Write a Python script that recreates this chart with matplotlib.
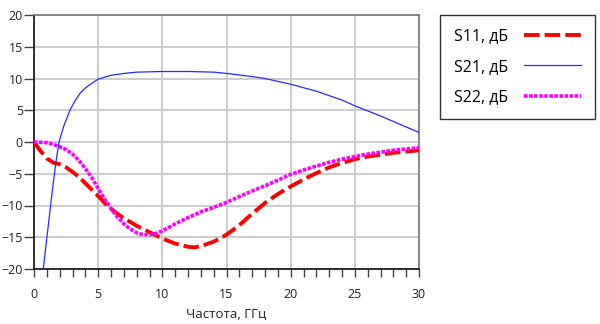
import matplotlib
matplotlib.use("Agg")
import matplotlib.pyplot as plt
from matplotlib.ticker import MultipleLocator

plt.rcParams["font.family"] = ["Open Sans", "DejaVu Sans"]

# frequency, GHz / level, dB
s11_f = [0, 0.5, 1, 1.5, 2, 2.5, 3, 3.5, 4, 4.5, 5, 5.5, 6, 6.5, 7, 7.5, 8, 8.5, 9, 9.5,
         10, 11, 12, 12.5, 13, 14, 15, 16, 17, 18, 19, 20, 21, 22, 23, 24, 25, 26, 27,
         28, 29, 30]
s11_db = [0, -1.4, -2.6, -3.25, -3.5, -4.0, -4.7, -5.5, -6.5, -7.5, -8.5, -9.6, -10.5,
          -11.3, -12.0, -12.6, -13.2, -13.7, -14.2, -14.7, -15.2, -16.0, -16.5, -16.6,
          -16.4, -15.7, -14.6, -13.1, -11.3, -9.6, -8.2, -7.0, -5.9, -4.9, -4.0, -3.3,
          -2.7, -2.3, -2.0, -1.7, -1.5, -1.3]

s21_f = [0.5, 0.72, 1.0, 1.43, 1.7, 1.95, 2.3, 2.8, 3.2, 3.6, 4.0, 4.4, 5, 6, 7, 8, 10,
         12, 14, 15, 17, 18, 20, 22, 24, 25, 27, 30]
s21_db = [-24.0, -20.0, -15.1, -7.6, -3.3, 0.0, 2.4, 5.0, 6.5, 7.7, 8.5, 9.1, 9.9, 10.5,
          10.8, 11.0, 11.1, 11.1, 11.0, 10.8, 10.3, 10.0, 9.1, 8.0, 6.6, 5.7, 4.1, 1.5]

s22_f = [0, 1, 1.5, 2, 2.5, 3, 3.5, 4, 4.5, 5, 5.5, 6, 6.5, 7, 7.5, 8, 8.5, 9, 9.5, 10,
         11, 12, 13, 14, 15, 16, 17, 18, 19, 20, 21, 22, 23, 24, 25, 26, 27, 28, 29, 30]
s22_db = [0, -0.1, -0.35, -0.75, -1.2, -1.9, -2.9, -4.2, -5.6, -7.3, -9.0, -10.5, -11.8,
          -12.9, -13.7, -14.3, -14.6, -14.6, -14.4, -14.0, -12.9, -11.9, -11.0, -10.3,
          -9.5, -8.6, -7.7, -6.9, -6.0, -5.1, -4.4, -3.8, -3.2, -2.7, -2.3, -1.9, -1.6,
          -1.3, -1.1, -0.9]

x_label = "Частота, ГГц"
labels = ["S11, дБ", "S21, дБ", "S22, дБ"]

fig = plt.figure(figsize=(6.0, 3.24), dpi=100)
ax = fig.add_axes([34 / 600, 1 - 269 / 324, 385 / 600, 254 / 324])

ax.plot(s11_f, s11_db, color="#ff0000", lw=2.8, dashes=(4.0, 1.3), label=labels[0],
        zorder=3)
ax.plot(s21_f, s21_db, color="#2828ff", lw=0.9, label=labels[1], zorder=4)
ax.plot(s22_f, s22_db, color="#ff00ff", lw=2.6, dashes=(1.0, 0.4), label=labels[2],
        zorder=3)

ax.set_xlim(0, 30)
ax.set_ylim(-20, 20)
ax.xaxis.set_major_locator(MultipleLocator(5))
ax.xaxis.set_minor_locator(MultipleLocator(1))
ax.yaxis.set_major_locator(MultipleLocator(5))
ax.grid(True, which="major", color="#c8c8c8", lw=1.3)
ax.set_axisbelow(True)

ax.tick_params(axis="x", which="both", direction="out", length=6, width=1,
               color="#404040", labelsize=9, pad=8, labelcolor="#222222")
ax.tick_params(axis="y", which="major", direction="out", length=7, width=1,
               color="#404040", labelsize=9, pad=1, labelcolor="#222222")
for side in ("left", "bottom"):
    ax.spines[side].set_color("#111111")
    ax.spines[side].set_linewidth(1.2)
for side in ("top", "right"):
    ax.spines[side].set_color("#777777")
    ax.spines[side].set_linewidth(1.2)

ax.set_xlabel(x_label, fontsize=9.5, labelpad=5, color="#222222")

leg = ax.legend(loc="upper left", bbox_to_anchor=(440 / 600, 1 - 15 / 324),
                bbox_transform=fig.transFigure, markerfirst=False, fontsize=11.5,
                handlelength=3.6, labelspacing=0.9, borderpad=0.85,
                handletextpad=1.0, borderaxespad=0, fancybox=False, framealpha=1)
leg.get_frame().set_edgecolor("#333333")
leg.get_frame().set_linewidth(1.0)

fig.savefig("out.png", dpi=100)
